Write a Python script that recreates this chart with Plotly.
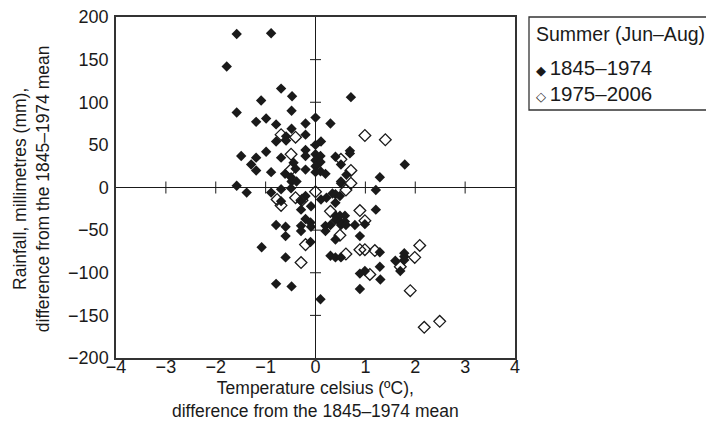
import plotly.graph_objects as go

# 1845–1974 (filled diamonds): temperature anomaly (°C), rainfall anomaly (mm)
early_temp = [-1.58, -0.89, -1.78, -0.69, -0.47, -1.09, -1.58, -0.48, -1.19, -0.99,
              -0.79, -0.48, -0.20, -0.59, -0.20, -0.79, -0.59, -0.20, 0.00, -0.99,
              -1.49, -1.19, -0.69, -0.20, -1.29, -0.44, -0.40, -1.19, -0.89, -0.61,
              -0.20, -0.49, -0.48, -0.38, -1.58, -1.38, -0.89, -0.69, -0.69, -0.20,
              -0.29, -0.09, -0.29, -0.20, -0.10, -0.09, -0.29, -0.29, -0.79, -0.60,
              -0.60, -1.08, -0.10, -0.60, -0.79, -0.48, 0.71, 0.00, 0.30, 0.11,
              0.00, 0.10, 0.00, 0.10, 0.00, 0.00, 0.10, 0.20, 0.40, 0.51,
              0.69, 0.69, 1.79, 0.62, 0.51, 0.51, 1.29, 1.21, 0.11, 0.22,
              0.34, 0.40, 0.49, 0.40, 0.40, 0.49, 0.59, 0.40, 0.49, 0.59,
              0.51, 0.61, 0.20, 0.30, 0.20, 0.79, 1.21, 0.99, 0.89, 0.40,
              0.30, 0.40, 0.51, 1.29, 1.78, 1.78, 1.78, 1.60, 1.29, 0.99,
              0.89, 1.30, 0.89, 1.70, 0.10, -0.49]
early_rain = [180, 181, 142, 116, 107, 102, 88, 90, 77, 81,
              74, 69, 75, 60, 62, 54, 55, 44, 50, 42,
              37, 35, 35, 37, 27, 29, 22, 20, 18, 16,
              21, 12, 7, 7, 2, -6, -6, -2, -16, -10,
              -16, -22, -26, -37, -41, -46, -45, -51, -44, -46,
              -57, -70, -64, -82, -113, -116, 106, 82, 75, 54,
              39, 37, 32, 30, 25, 18, 19, 16, 36, 27,
              43, 40, 27, 15, 7, 5, 12, -3, -14, -12,
              -7, -8, -10, -18, -33, -33, -33, -38, -40, -40,
              -44, -44, -45, -44, -51, -44, -26, -43, -57, -61,
              -80, -82, -82, -76, -77, -81, -85, -86, -93, -98,
              -101, -108, -119, -98, -131, -1]

# 1975–2006 (open diamonds)
late_temp = [-0.69, -0.40, -0.49, -0.49, -0.77, -0.69, -0.40, -0.20, -0.29, 0.51,
             0.99, 1.40, 0.71, 0.71, 0.61, 0.00, -0.27, 0.30, 0.89, 0.99,
             0.49, 2.09, 0.61, 0.89, 0.99, 1.19, 1.99, 1.70, 1.09, 1.90,
             2.49, 2.18]
late_rain = [62, 59, 39, 21, -14, -21, -12, -67, -88, 33,
             61, 56, 20, 5, -3, -5, -15, -28, -27, -39,
             -56, -68, -78, -73, -73, -74, -82, -93, -102, -121,
             -157, -164]

series_names = ["1845–1974", "1975–2006"]
legend_title = "Summer (Jun–Aug)"
x_title = "Temperature celsius (ºC),<br>difference from the 1845–1974 mean"
y_title = "Rainfall, millimetres (mm),<br>difference from the 1845–1974 mean"
x_ticks = [-4, -3, -2, -1, 0, 1, 2, 3, 4]
y_ticks = [-200, -150, -100, -50, 0, 50, 100, 150, 200]
x_cross_ticks = [t for t in x_ticks if t not in (-4, 0, 4)]
y_cross_ticks = [t for t in y_ticks if t not in (-200, 0, 200)]

FONT = "Liberation Sans, Arial, sans-serif"
INK = "#1a1a1a"

fig = go.Figure()
fig.add_trace(go.Scatter(
    x=early_temp, y=early_rain, mode="markers", name=series_names[0],
    marker=dict(symbol="diamond", size=8, color=INK, line=dict(width=0)),
))
fig.add_trace(go.Scatter(
    x=late_temp, y=late_rain, mode="markers", name=series_names[1],
    marker=dict(symbol="diamond-open", size=9, color=INK, line=dict(width=1.3, color=INK)),
))

shapes = []
for t in x_cross_ticks:
    shapes.append(dict(type="line", xref="x", yref="y", ysizemode="pixel", yanchor=0,
                       x0=t, x1=t, y0=-6, y1=6, line=dict(color=INK, width=1)))
for t in y_cross_ticks:
    shapes.append(dict(type="line", xref="x", yref="y", xsizemode="pixel", xanchor=0,
                       y0=t, y1=t, x0=-5.5, x1=5.5, line=dict(color=INK, width=1)))

# helpers: paper coordinates relative to the plot frame (frame = 399 x 341 px)
PW, PH = 399.0, 341.0
def px_x(p):
    return (p - 115) / PW
def px_y(p):
    return (356 - p) / PH

shapes.append(dict(type="rect", xref="paper", yref="paper",
                   x0=px_x(528), x1=px_x(760), y0=px_y(108), y1=px_y(15),
                   line=dict(color="#333", width=1.3), fillcolor="white", layer="below"))

annotations = [
    dict(text=legend_title, xref="paper", yref="paper", x=px_x(533), y=px_y(32),
         xanchor="left", yanchor="middle", showarrow=False, font=dict(size=19.5)),
    dict(text="<span style='font-size:13px'>◆ </span>" + series_names[0], xref="paper", yref="paper",
         x=px_x(533), y=px_y(66), xanchor="left", yanchor="middle", showarrow=False,
         font=dict(size=20.5)),
    dict(text="<span style='font-size:13px'>◇ </span>" + series_names[1], xref="paper", yref="paper",
         x=px_x(533), y=px_y(91), xanchor="left", yanchor="middle", showarrow=False,
         font=dict(size=20.5)),
    dict(text=x_title, xref="paper", yref="paper", x=0.5, y=0, yshift=-41,
         xanchor="center", yanchor="middle", showarrow=False, font=dict(size=17.5)),
    dict(text=y_title, xref="paper", yref="paper", x=0, y=0.495, xshift=-85,
         textangle=-90, xanchor="center", yanchor="middle", showarrow=False,
         font=dict(size=17.5)),
]

fig.update_layout(
    width=714, height=441,
    margin=dict(l=108, r=207, t=9, b=91),
    paper_bgcolor="white", plot_bgcolor="white",
    font=dict(family=FONT, size=17, color=INK),
    showlegend=False,
    shapes=shapes,
    annotations=annotations,
)
fig.update_xaxes(
    range=[-4, 4], tickvals=x_ticks, ticks="", showgrid=False, automargin=False,
    zeroline=True, zerolinecolor=INK, zerolinewidth=1,
    showline=True, mirror=True, linecolor="#333", linewidth=1.5,
    tickfont=dict(size=18), ticklabelstandoff=-8,
)
fig.update_yaxes(
    range=[-200, 200], tickvals=y_ticks, ticks="", showgrid=False, automargin=False,
    zeroline=True, zerolinecolor=INK, zerolinewidth=1,
    showline=True, mirror=True, linecolor="#333", linewidth=1.5,
    tickfont=dict(size=18), ticklabelstandoff=2, ticklabeloverflow="allow",
)

fig.write_html("out.html")
